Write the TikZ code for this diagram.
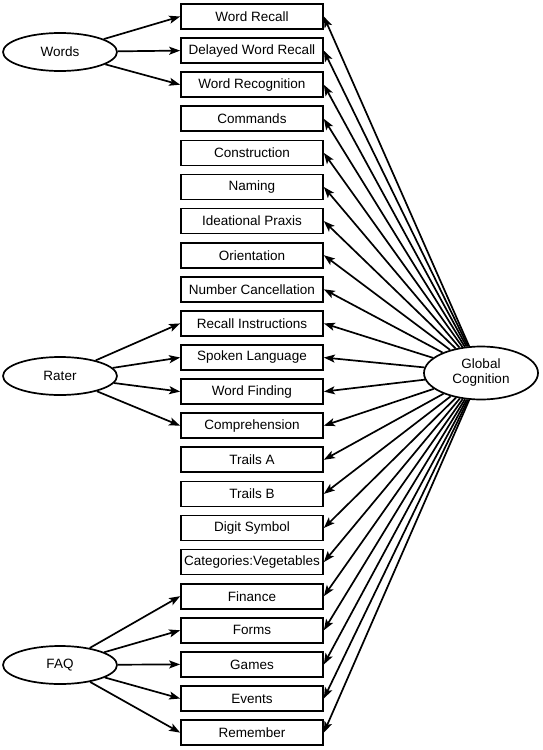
\documentclass[tikz,border=0pt]{standalone}
\usepackage{fontspec}
\setmainfont{Liberation Sans}
\usetikzlibrary{positioning,shapes.geometric,arrows.meta}
\tikzset{
block/.style={
draw,
line width=1.7pt,
minimum width=142pt,minimum height=25pt,inner sep=0pt,align=center},
latent/.style={
draw,ellipse,
line width=1.7pt,
minimum width=114pt,minimum height=38pt,inner sep=0pt,align=center},
line/.style={-{Stealth[length=11pt,width=8pt,inset=2.5pt]},line width=1.7pt},
font={\fontsize{13.5pt}{15pt}\selectfont}
}
\begin{document}
\begin{tikzpicture}[x=1pt,y=-1pt,node distance=7.4pt]
  \useasboundingbox (0,0) rectangle (543,750);
  \node[block] (recall) at (252,16.5) {Word Recall};
  \node[block, below=of recall] (delayed) {Delayed Word Recall};
  \node[block, below=of delayed] (recog) {Word Recognition};
  \node[block, below=of recog] (commands) {Commands};
  \node[block, below=of commands] (construct) {Construction};
  \node[block, below=of construct] (naming) {Naming};
  \node[block, below=of naming] (praxis) {Ideational Praxis};
  \node[block, below=of praxis] (orient) {Orientation};
  \node[block, below=of orient] (cancel) {Number Cancellation};
  \node[block, below=of cancel] (instr) {Recall Instructions};
  \node[block, below=of instr] (spoken) {Spoken Language};
  \node[block, below=of spoken] (finding) {Word Finding};
  \node[block, below=of finding] (compreh) {Comprehension};
  \node[block, below=of compreh] (trailsa) {Trails A};
  \node[block, below=of trailsa] (trailsb) {Trails B};
  \node[block, below=of trailsb] (digit) {Digit Symbol};
  \node[block, below=of digit] (categ) {Categories:Vegetables};
  \node[block, below=of categ] (finance) {Finance};
  \node[block, below=of finance] (forms) {Forms};
  \node[block, below=of forms] (games) {Games};
  \node[block, below=of games] (events) {Events};
  \node[block, below=of events] (remember) {Remember};
  % factors
  \node[latent] (words) at (60,52) {Words};
  \node[latent] (rater) at (60,376) {Rater};
  \node[latent] (faq) at (60,665) {FAQ};
  \node[latent, minimum height=53pt] (global) at (481,373) {Global\\Cognition};
  % specific factors
  \draw[line] (words)-- (recall.west);
  \draw[line] (words)-- (delayed.west);
  \draw[line] (words)-- (recog.west);
  \draw[line] (rater)-- (instr.west);
  \draw[line] (rater)-- (spoken.west);
  \draw[line] (rater)-- (finding.west);
  \draw[line] (rater)-- (compreh.west);
  \draw[line] (faq)-- (finance.west);
  \draw[line] (faq)-- (forms.west);
  \draw[line] (faq)-- (games.west);
  \draw[line] (faq)-- (events.west);
  \draw[line] (faq)-- (remember.west);
  % general factor
  \draw[line] (global)-- (recall.east);
  \draw[line] (global)-- (delayed.east);
  \draw[line] (global)-- (recog.east);
  \draw[line] (global)-- (commands.east);
  \draw[line] (global)-- (construct.east);
  \draw[line] (global)-- (naming.east);
  \draw[line] (global)-- (praxis.east);
  \draw[line] (global)-- (orient.east);
  \draw[line] (global)-- (cancel.east);
  \draw[line] (global)-- (instr.east);
  \draw[line] (global)-- (spoken.east);
  \draw[line] (global)-- (finding.east);
  \draw[line] (global)-- (compreh.east);
  \draw[line] (global)-- (trailsa.east);
  \draw[line] (global)-- (trailsb.east);
  \draw[line] (global)-- (digit.east);
  \draw[line] (global)-- (categ.east);
  \draw[line] (global)-- (finance.east);
  \draw[line] (global)-- (forms.east);
  \draw[line] (global)-- (games.east);
  \draw[line] (global)-- (events.east);
  \draw[line] (global)-- (remember.east);
\end{tikzpicture}
\end{document}
